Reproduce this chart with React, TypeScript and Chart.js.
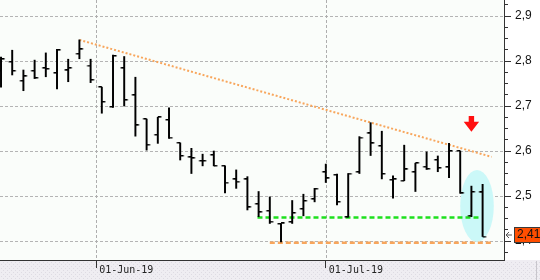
import React, { useEffect, useRef } from 'react';
import { Chart, registerables } from 'chart.js';

Chart.register(...registerables);

// ---- Data -----------------------------------------------------------------
const dates = [
  '2019-05-21', '2019-05-22', '2019-05-23', '2019-05-24', '2019-05-27', '2019-05-28', '2019-05-29', '2019-05-30', '2019-05-31',
  '2019-06-03', '2019-06-04', '2019-06-05', '2019-06-06', '2019-06-07', '2019-06-10', '2019-06-11', '2019-06-12', '2019-06-13',
  '2019-06-14', '2019-06-17', '2019-06-18', '2019-06-19', '2019-06-20', '2019-06-21', '2019-06-24', '2019-06-25', '2019-06-26',
  '2019-06-27', '2019-06-28',
  '2019-07-01', '2019-07-02', '2019-07-03', '2019-07-04', '2019-07-05', '2019-07-08', '2019-07-09', '2019-07-10', '2019-07-11',
  '2019-07-12', '2019-07-15', '2019-07-16', '2019-07-17', '2019-07-18', '2019-07-19',
];

const openPrices = [
  2.778, 2.798, 2.756, 2.778, 2.784, 2.773, 2.779, 2.816, 2.790, 2.742,
  2.698, 2.784, 2.724, 2.671, 2.636, 2.669, 2.618, 2.586, 2.578, 2.591,
  2.567, 2.537, 2.537, 2.482, 2.467, 2.438, 2.442, 2.471, 2.493, 2.553,
  2.547, 2.453, 2.553, 2.639, 2.611, 2.536, 2.534, 2.553, 2.565, 2.580,
  2.564, 2.600, 2.456, 2.508,
];
const highPrices = [
  2.809, 2.824, 2.780, 2.802, 2.818, 2.826, 2.804, 2.847, 2.804, 2.742,
  2.813, 2.810, 2.764, 2.671, 2.675, 2.696, 2.618, 2.606, 2.593, 2.600,
  2.567, 2.558, 2.543, 2.510, 2.498, 2.439, 2.490, 2.504, 2.517, 2.571,
  2.549, 2.550, 2.632, 2.663, 2.644, 2.545, 2.613, 2.573, 2.598, 2.589,
  2.617, 2.600, 2.522, 2.526,
];
const lowPrices = [
  2.742, 2.769, 2.734, 2.761, 2.765, 2.738, 2.754, 2.805, 2.752, 2.684,
  2.697, 2.700, 2.633, 2.602, 2.617, 2.628, 2.580, 2.550, 2.567, 2.567,
  2.507, 2.517, 2.469, 2.454, 2.439, 2.398, 2.439, 2.456, 2.487, 2.530,
  2.480, 2.453, 2.550, 2.590, 2.538, 2.495, 2.534, 2.510, 2.559, 2.554,
  2.541, 2.506, 2.454, 2.410,
];
const closePrices = [
  2.804, 2.778, 2.766, 2.762, 2.782, 2.824, 2.784, 2.826, 2.758, 2.709,
  2.811, 2.713, 2.657, 2.614, 2.675, 2.630, 2.589, 2.584, 2.578, 2.567,
  2.530, 2.532, 2.475, 2.464, 2.443, 2.439, 2.462, 2.489, 2.516, 2.539,
  2.487, 2.550, 2.630, 2.617, 2.549, 2.537, 2.559, 2.573, 2.560, 2.562,
  2.600, 2.506, 2.509, 2.410,
];

// axis ticks
const yMajorTicks = [2.4, 2.5, 2.6, 2.7, 2.8, 2.9];
const yMinorStep = 0.025;
const monthTickDates = ['2019-06-01', '2019-07-01'];
const monthTickLabels = ['01-Jun-19', '01-Jul-19'];

// drawn studies (bar index, price)
const trendIdx = [7, 43.8];
const trendPrice = [2.847, 2.587];
const supportIdx = [22.9, 42.7];
const supportPrice = [2.452, 2.452];
const floorIdx = [24, 43.8];
const floorPrice = [2.396, 2.396];
const focusCenter = { idx: 42.5, price: 2.478, halfIdx: 1.5, halfPrice: 0.08 };
const signalArrow = { idx: 42, top: 2.678, tip: 2.643 };

// visible window
const xMin = -0.09;
const xMax = 44.91;
const yMin = 2.3578;
const yMax = 2.9356;

const fmt = (v: number, d: number) => v.toFixed(d).replace('.', ',');
const isMajor = (v: number) => yMajorTicks.some((m) => Math.abs(m - v) < 1e-6);

function makeTick(side: 'left' | 'right') {
  const c = document.createElement('canvas');
  c.width = 10;
  c.height = 2;
  const g = c.getContext('2d')!;
  g.fillStyle = '#000';
  if (side === 'left') g.fillRect(1.5, 0, 3.5, 1.5);
  else g.fillRect(5, 0, 3.5, 1.5);
  return c;
}

export default function App() {
  const ref = useRef<HTMLCanvasElement>(null);

  useEffect(() => {
    const canvas = ref.current!;
    const idx = dates.map((_, i) => i);
    const monthTickValues = monthTickDates.map((d) => {
      const i = dates.findIndex((x) => x >= d);
      return dates[i] === d ? i : i - 0.5;
    });
    const yTickValues: number[] = [];
    for (let v = yMajorTicks[0] - yMinorStep; v <= yMajorTicks[yMajorTicks.length - 1] + yMinorStep + 1e-9; v += yMinorStep) {
      yTickValues.push(Math.round(v * 1000) / 1000);
    }
    const openTick = makeTick('left');
    const closeTick = makeTick('right');

    const decor = {
      id: 'decor',
      beforeDraw(chart: any) {
        const { ctx, width, height, chartArea: a } = chart;
        ctx.save();
        ctx.fillStyle = '#ffffff';
        ctx.fillRect(0, 0, width, height);
        ctx.fillStyle = '#fafdfa';
        ctx.fillRect(a.left, a.top, a.right - a.left, a.bottom - a.top);
        ctx.fillStyle = '#efedf2';
        ctx.fillRect(0, a.bottom, width, height - a.bottom);
        ctx.fillStyle = '#dedbe3';
        for (let y = Math.ceil(a.bottom) + 2, r = 0; y < height; y += 2, r++) {
          for (let x = r % 2 ? 1 : 3; x < width; x += 4) ctx.fillRect(x, y, 1, 1);
        }
        ctx.fillStyle = '#c8c6cc';
        ctx.fillRect(536, a.bottom + 1, 1, height - a.bottom - 1);
        ctx.restore();
      },
      beforeDatasetsDraw(chart: any) {
        const { ctx, chartArea: a } = chart;
        const { x, y } = chart.scales;
        ctx.save();
        // month grid lines (dashed)
        ctx.fillStyle = '#aeaeae';
        monthTickValues.forEach((v) => {
          const px = Math.round(x.getPixelForValue(v));
          for (let yy = a.top; yy < a.bottom; yy += 5) {
            ctx.fillRect(px, yy, 1, Math.min(3, a.bottom - yy));
          }
        });
        // highlight ellipse
        const cx = x.getPixelForValue(focusCenter.idx);
        const cy = y.getPixelForValue(focusCenter.price);
        const rx = Math.abs(x.getPixelForValue(focusCenter.idx + focusCenter.halfIdx) - cx);
        const ry = Math.abs(y.getPixelForValue(focusCenter.price + focusCenter.halfPrice) - cy);
        ctx.fillStyle = '#cbf8f8';
        ctx.beginPath();
        ctx.ellipse(cx, cy, rx, ry, 0, 0, Math.PI * 2);
        ctx.fill();
        ctx.restore();
      },
      afterDraw(chart: any) {
        const { ctx, width, chartArea: a } = chart;
        const { x, y } = chart.scales;
        ctx.save();
        // longer major ticks on the price axis
        ctx.fillStyle = '#333';
        yMajorTicks.forEach((m) => {
          const py = Math.round(y.getPixelForValue(m));
          ctx.fillRect(a.right + 3, py, 4, 1);
        });
        // red signal arrow
        const ax = x.getPixelForValue(signalArrow.idx);
        const top = y.getPixelForValue(signalArrow.top);
        const tip = y.getPixelForValue(signalArrow.tip);
        const headStart = top + (tip - top) * 0.37;
        ctx.fillStyle = '#ff1010';
        ctx.beginPath();
        ctx.moveTo(ax - 2.7, top);
        ctx.lineTo(ax + 2.7, top);
        ctx.lineTo(ax + 2.7, headStart);
        ctx.lineTo(ax + 7.7, headStart);
        ctx.lineTo(ax, tip);
        ctx.lineTo(ax - 7.7, headStart);
        ctx.lineTo(ax - 2.7, headStart);
        ctx.closePath();
        ctx.fill();
        // last price box
        const last = closePrices[closePrices.length - 1];
        const ly = y.getPixelForValue(last) - 2;
        const bx = a.right + 10;
        ctx.fillStyle = '#ff4e00';
        ctx.fillRect(bx, ly - 7.5, width - bx + 2, 15);
        ctx.strokeStyle = '#3a3a3a';
        ctx.lineWidth = 1;
        ctx.strokeRect(bx + 0.5, Math.round(ly - 7.5) + 0.5, width - bx + 2, 15);
        ctx.fillStyle = '#111';
        ctx.font = '12px "Liberation Sans", Arial, sans-serif';
        ctx.textBaseline = 'middle';
        ctx.textAlign = 'left';
        ctx.fillText(fmt(last, 2), bx + 3, ly + 0.5);
        // small pointer arrow
        ctx.strokeStyle = '#555';
        ctx.beginPath();
        ctx.moveTo(a.right + 8, ly + 0.5);
        ctx.lineTo(a.right + 2, ly + 0.5);
        ctx.moveTo(a.right + 5, ly - 2.5);
        ctx.lineTo(a.right + 2, ly + 0.5);
        ctx.lineTo(a.right + 5, ly + 3.5);
        ctx.stroke();
        ctx.restore();
      },
    };

    const chart = new Chart(canvas, {
      type: 'line',
      data: {
        datasets: [
          {
            type: 'bar',
            data: idx.map((i) => ({ x: i, y: [lowPrices[i], highPrices[i]] })) as any,
            backgroundColor: '#000',
            borderWidth: 0,
            barThickness: 1.3,
            grouped: false,
          } as any,
          {
            type: 'line',
            data: idx.map((i) => ({ x: i, y: openPrices[i] })),
            showLine: false,
            pointStyle: openTick as any,
            pointRadius: 3,
            pointHoverRadius: 3,
          },
          {
            type: 'line',
            data: idx.map((i) => ({ x: i, y: closePrices[i] })),
            showLine: false,
            pointStyle: closeTick as any,
            pointRadius: 3,
            pointHoverRadius: 3,
          },
          {
            type: 'line',
            data: trendIdx.map((v, i) => ({ x: v, y: trendPrice[i] })),
            borderColor: '#f8a65c',
            borderWidth: 2,
            borderDash: [2, 2],
            pointRadius: 0,
            tension: 0,
          },
          {
            type: 'line',
            data: supportIdx.map((v, i) => ({ x: v, y: supportPrice[i] })),
            borderColor: '#1ee01e',
            borderWidth: 2.5,
            borderDash: [5, 3],
            pointRadius: 0,
            tension: 0,
          },
          {
            type: 'line',
            data: floorIdx.map((v, i) => ({ x: v, y: floorPrice[i] })),
            borderColor: '#f8a65c',
            borderWidth: 2.5,
            borderDash: [5, 3],
            pointRadius: 0,
            tension: 0,
          },
        ],
      },
      options: {
        animation: false,
        responsive: false,
        devicePixelRatio: 1,
        events: [],
        layout: { padding: 0, autoPadding: false },
        plugins: { legend: { display: false }, tooltip: { enabled: false } },
        scales: {
          x: {
            type: 'linear',
            position: 'bottom',
            min: xMin,
            max: xMax,
            offset: false,
            afterBuildTicks: (s: any) => {
              s.ticks = monthTickValues.map((v) => ({ value: v }));
            },
            afterFit: (s: any) => {
              s.height = 20;
              s.paddingLeft = 0;
              s.paddingRight = 0;
            },
            ticks: {
              autoSkip: false,
              maxRotation: 0,
              minRotation: 0,
              align: 'start',
              labelOffset: 3,
              padding: -4,
              color: '#222',
              font: { family: '"DejaVu Sans Mono", monospace', size: 10 },
              callback: (_v: any, i: number) => monthTickLabels[i],
            },
            grid: {
              offset: false,
              drawOnChartArea: false,
              color: '#b4b4b4',
              lineWidth: 1,
              drawTicks: true,
              tickLength: 8,
              tickColor: '#333',
              tickWidth: 1,
              tickBorderDash: [],
            },
            border: { display: true, color: '#333', width: 1 },
          },
          y: {
            type: 'linear',
            position: 'right',
            min: yMin,
            max: yMax,
            afterBuildTicks: (s: any) => {
              s.ticks = yTickValues.map((v) => ({ value: v }));
            },
            afterFit: (s: any) => {
              s.width = 36;
              s.paddingTop = 0;
              s.paddingBottom = 0;
            },
            ticks: {
              autoSkip: false,
              padding: 7,
              color: '#111',
              font: { family: '"Liberation Sans", Arial, sans-serif', size: 12 },
              callback: (v: any) => (isMajor(Number(v)) ? fmt(Number(v), 1) : ''),
            },
            grid: {
              offset: false,
              color: (c: any) => (c.tick && isMajor(c.tick.value) ? '#b4b4b4' : 'rgba(0,0,0,0)'),
              lineWidth: 1,
              drawTicks: true,
              tickLength: 4,
              tickColor: '#333',
              tickWidth: 1,
              tickBorderDash: [],
            },
            border: { display: true, color: '#333', width: 1, dash: [3, 2] },
          },
        },
      } as any,
      plugins: [decor],
    });

    return () => chart.destroy();
  }, []);

  return (
    <div style={{ position: 'fixed', left: 0, top: 0, width: 540, height: 280 }}>
      <canvas ref={ref} width={540} height={280} style={{ display: 'block', width: 540, height: 280 }} />
    </div>
  );
}
